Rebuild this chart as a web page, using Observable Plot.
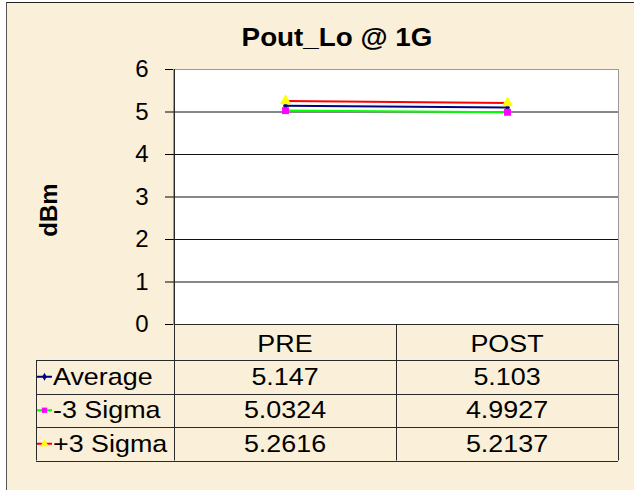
<!DOCTYPE html>
<html><head><meta charset="utf-8">
<script src="https://cdn.jsdelivr.net/npm/d3@7"></script>
<script src="https://cdn.jsdelivr.net/npm/@observablehq/plot@0.6"></script>
<style>
html,body{margin:0;padding:0;background:#fff;}
#wrap{position:relative;width:634px;height:490px;overflow:hidden;}
#bg{position:absolute;left:6px;top:2px;right:0;bottom:0;background:#FAEFD9;border-top:1px solid #222;border-left:1px solid #555;}
#chart{position:absolute;left:0;top:0;}
</style></head><body>
<div id="wrap"><div id="bg"></div><div id="chart"></div></div>
<script>
// ---- data ----
const categories = ["PRE", "POST"];
const seriesNames = ["Average", "-3 Sigma", "+3 Sigma"];
const average = [5.147, 5.103];
const minus3Sigma = [5.0324, 4.9927];
const plus3Sigma = [5.2616, 5.2137];
const yTicks = [0, 1, 2, 3, 4, 5, 6];
const title = "Pout_Lo @ 1G";
const yLabel = "dBm";

// ---- styles ----
const lineColors = ["#000080", "#00FF00", "#FF0000"];
const markerFills = ["#000080", "#FF00FF", "#FFFF00"];
const markerSymbols = ["diamond", "square", "triangle"];
const markerR = [2.6, 3.9, 4.2];
const FONT = "'Liberation Sans', Arial, sans-serif";

const seriesValues = [average, minus3Sigma, plus3Sigma];
const data = seriesNames.flatMap((s, i) =>
  categories.map((c, j) => ({series: s, cat: c, value: seriesValues[i][j]})));

const plot = Plot.plot({
  width: 634, height: 490,
  marginLeft: 173, marginRight: 16, marginTop: 69, marginBottom: 166,
  style: {background: "transparent", fontFamily: FONT, fontSize: "24px", color: "#000", overflow: "visible"},
  x: {type: "band", domain: categories, padding: 0, axis: null},
  y: {domain: [0, 6], ticks: yTicks, tickSize: 8, tickPadding: 17, label: null, tickFormat: d => String(d)},
  color: {domain: seriesNames, range: lineColors},
  marks: [
    Plot.frame({fill: "white", stroke: "#9a9a9a"}),
    Plot.ruleY(yTicks.filter(t => t > 0 && t < 6), {stroke: "#111", strokeWidth: 1}),
    Plot.line(data, {x: "cat", y: "value", z: "series", stroke: "series", strokeWidth: 2}),
    ...seriesNames.map((s, i) => Plot.dot(data.filter(d => d.series === s), {
      x: "cat", y: "value", symbol: markerSymbols[i], fill: markerFills[i], stroke: "none", r: markerR[i]
    }))
  ]
});
document.getElementById("chart").appendChild(plot);

// ---- title, axis label, data table ----
const svg = d3.select(plot);
const xs = plot.scale("x"), ys = plot.scale("y");
const bw = xs.bandwidth;
const plotLeft = xs.apply(categories[0]);
const plotRight = xs.apply(categories[categories.length - 1]) + bw;
const plotTop = ys.apply(6);
const tableTop = ys.apply(0);
const headerH = 36, rowH = 33.5, legendLeft = 36;
const rowTops = seriesNames.map((_, i) => tableTop + headerH + i * rowH);
const tableBottom = tableTop + headerH + seriesNames.length * rowH;
const g = svg.append("g");

function txt(x, y, s, opts = {}) {
  const {anchor = "middle", size = 24, weight = "normal", sx = 1.12} = opts;
  g.append("text")
    .attr("transform", `translate(${x},${y}) scale(${sx},1)`)
    .attr("text-anchor", anchor)
    .attr("font-family", FONT).attr("font-size", size).attr("font-weight", weight)
    .attr("fill", "#000").text(s);
}
function hline(x1, x2, y, c = "#2a2a2a") {
  g.append("line").attr("x1", x1).attr("x2", x2).attr("y1", Math.round(y) + 0.5).attr("y2", Math.round(y) + 0.5)
    .attr("stroke", c).attr("stroke-width", 1);
}
function vline(x, y1, y2, c = "#2a2a2a") {
  g.append("line").attr("x1", Math.round(x) + 0.5).attr("x2", Math.round(x) + 0.5).attr("y1", y1).attr("y2", y2)
    .attr("stroke", c).attr("stroke-width", 1);
}

// table borders
hline(plotLeft, plotRight, tableTop);
rowTops.forEach(t => hline(legendLeft, plotRight, t));
hline(legendLeft, plotRight, tableBottom);
vline(plotLeft, plotTop, tableBottom);
categories.forEach(c => vline(xs.apply(c) + bw, tableTop, tableBottom));
vline(legendLeft, rowTops[0], tableBottom);

// header
categories.forEach(c => txt(xs.apply(c) + bw / 2, tableTop + 28, c));
// rows
seriesNames.forEach((s, i) => {
  const top = rowTops[i];
  const cy = top + rowH / 2;
  // legend key
  g.append("line").attr("x1", legendLeft + 1).attr("x2", legendLeft + 16).attr("y1", cy).attr("y2", cy)
    .attr("stroke", lineColors[i]).attr("stroke-width", 2);
  const sym = {diamond: d3.symbolDiamond, square: d3.symbolSquare, triangle: d3.symbolTriangle}[markerSymbols[i]];
  g.append("path").attr("d", d3.symbol(sym, [18, 28, 30][i])())
    .attr("transform", `translate(${legendLeft + 8.5},${cy})`).attr("fill", markerFills[i]);
  txt(legendLeft + 17, top + 24.5, s, {anchor: "start"});
  categories.forEach((c, j) => txt(xs.apply(c) + bw / 2, top + 24.5, String(seriesValues[i][j])));
});

// title & y label
txt(337, 46, title, {size: 26, weight: "bold", sx: 1.07});
g.append("text").attr("transform", "translate(57,210) rotate(-90)")
  .attr("text-anchor", "middle").attr("font-family", FONT).attr("font-size", 24)
  .attr("font-weight", "bold").attr("fill", "#000").text(yLabel);
</script>
</body></html>
